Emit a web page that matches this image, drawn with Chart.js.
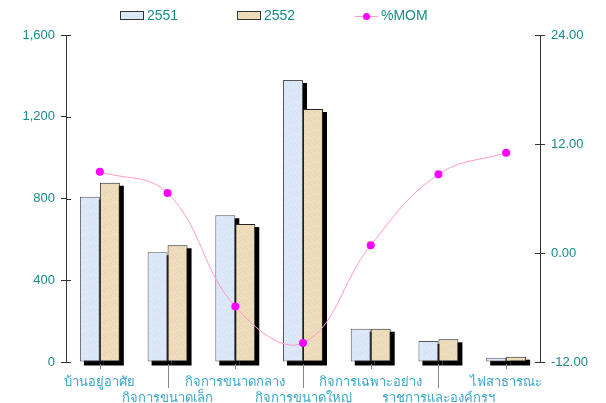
<!DOCTYPE html>
<html>
<head>
<meta charset="utf-8">
<script src="https://cdn.jsdelivr.net/npm/chart.js@4/dist/chart.umd.min.js"></script>
<style>
  html, body { margin: 0; padding: 0; background: #fff; }
  #wrap { width: 606px; height: 403px; }
</style>
</head>
<body>
<div id="wrap"><canvas id="momChart" width="606" height="403"></canvas></div>
<script>
const categories = ['บ้านอยู่อาศัย', 'กิจการขนาดเล็ก', 'กิจการขนาดกลาง', 'กิจการขนาดใหญ่', 'กิจการเฉพาะอย่าง', 'ราชการและองค์กรฯ', 'ไฟสาธารณะ'];
const values2551 = [809, 537, 718, 1380, 163, 103, 21];
const values2552 = [877, 571, 675, 1238, 163, 111, 26];
const momValues = [8.95, 6.6, -5.9, -9.9, 0.85, 8.66, 11.04];
const leftTicks = [0, 400, 800, 1200, 1600];
const rightTicks = [-12, 0, 12, 24];

const tealText = '#178a8a';
const labelBlue = '#3aa6c8';

// soft mottled fill, like the paper texture of the original bars
function texture(base, dark) {
  const c = document.createElement('canvas');
  c.width = 32; c.height = 32;
  const g = c.getContext('2d');
  g.fillStyle = base;
  g.fillRect(0, 0, 32, 32);
  g.fillStyle = dark;
  for (let i = 0; i < 32; i++) {
    for (let j = 0; j < 32; j++) {
      const n = Math.sin(i * 0.7 + j * 2.3) * Math.cos(j * 0.5 - i * 1.9);
      if (n > 0.55) g.fillRect(i, j, 1, 1);
    }
  }
  return g.createPattern(c, 'repeat');
}
const blueFill = texture('#dde9f8', 'rgba(175,200,228,0.3)');
const tanFill = texture('#efdebd', 'rgba(205,175,125,0.3)');

// black drop shadow behind the bars
const barShadow = {
  id: 'barShadow',
  beforeDatasetsDraw(chart) {
    const ctx = chart.ctx;
    ctx.save();
    ctx.fillStyle = '#000';
    chart.data.datasets.forEach((ds, i) => {
      if (ds.type !== 'bar') return;
      chart.getDatasetMeta(i).data.forEach(bar => {
        const p = bar.getProps(['x', 'y', 'base', 'width'], true);
        ctx.fillRect(p.x - p.width / 2 + 4, p.y + 3, p.width, p.base - p.y + 1);
      });
    });
    ctx.restore();
  }
};

// category tick marks, long ones for the second label row, and inner axis ticks
const catTicks = {
  id: 'catTicks',
  afterDraw(chart) {
    const ctx = chart.ctx;
    const x = chart.scales.x;
    const area = chart.chartArea;
    ctx.save();
    ctx.strokeStyle = '#888';
    ctx.lineWidth = 1;
    categories.forEach((c, i) => {
      const px = Math.round(x.getPixelForTick(i)) + 0.5;
      ctx.beginPath();
      ctx.moveTo(px, area.bottom + 2);
      ctx.lineTo(px, area.bottom + (i % 2 ? 26 : 7));
      ctx.stroke();
    });
    ctx.strokeStyle = '#333';
    [['y', area.left, 1], ['y1', area.right, -1]].forEach(([id, ax, dir]) => {
      const s = chart.scales[id];
      s.ticks.forEach(t => {
        const py = Math.round(s.getPixelForValue(t.value)) + 0.5;
        ctx.beginPath();
        ctx.moveTo(ax, py);
        ctx.lineTo(ax + dir * 5, py);
        ctx.stroke();
      });
    });
    ctx.restore();
  }
};

// legend drawn on top of the plot
const topLegend = {
  id: 'topLegend',
  afterDraw(chart) {
    const ctx = chart.ctx;
    ctx.save();
    ctx.font = '14px "Liberation Sans", Arial, sans-serif';
    ctx.textBaseline = 'middle';
    const y = 16;
    const items = [
      { x: 120, fill: blueFill, text: '2551' },
      { x: 237, fill: tanFill, text: '2552' }
    ];
    items.forEach(it => {
      ctx.fillStyle = it.fill;
      ctx.fillRect(it.x, y - 4, 23, 8);
      ctx.strokeStyle = '#333';
      ctx.strokeRect(it.x + 0.5, y - 4.5, 23, 8);
      ctx.fillStyle = tealText;
      ctx.fillText(it.text, it.x + 27, y);
    });
    ctx.strokeStyle = '#ff99cc';
    ctx.beginPath();
    ctx.moveTo(355, y + 0.5);
    ctx.lineTo(378, y + 0.5);
    ctx.stroke();
    ctx.fillStyle = '#ff00ff';
    ctx.beginPath();
    ctx.arc(366.5, y + 0.5, 3.5, 0, Math.PI * 2);
    ctx.fill();
    ctx.fillStyle = tealText;
    ctx.fillText('%MOM', 381, y);
    ctx.restore();
  }
};

new Chart(document.getElementById('momChart').getContext('2d'), {
  data: {
    labels: categories,
    datasets: [
      {
        type: 'line',
        label: '%MOM',
        data: momValues,
        yAxisID: 'y1',
        borderColor: '#ff99cc',
        borderWidth: 1,
        pointBackgroundColor: '#ff00ff',
        pointBorderWidth: 0,
        pointRadius: 4,
        tension: 0.4,
        order: 0
      },
      {
        type: 'bar',
        label: '2551',
        data: values2551,
        yAxisID: 'y',
        backgroundColor: blueFill,
        borderColor: '#555',
        borderWidth: 1,
        borderSkipped: false,
        barPercentage: 1,
        categoryPercentage: 0.59,
        order: 1
      },
      {
        type: 'bar',
        label: '2552',
        data: values2552,
        yAxisID: 'y',
        backgroundColor: tanFill,
        borderColor: '#222',
        borderWidth: 1,
        borderSkipped: false,
        barPercentage: 1,
        categoryPercentage: 0.59,
        order: 1
      }
    ]
  },
  options: {
    responsive: false,
    animation: false,
    layout: { padding: { top: 35, left: 0, right: 0, bottom: 0 } },
    plugins: {
      legend: { display: false },
      tooltip: { enabled: false }
    },
    scales: {
      x: {
        offset: true,
        border: { display: false },
        grid: { display: false, drawTicks: false },
        ticks: {
          color: labelBlue,
          font: { size: 13, family: 'Tahoma, "DejaVu Sans", sans-serif', lineHeight: 1.25 },
          padding: 12,
          maxRotation: 0,
          autoSkip: false,
          callback: (v, i) => (i % 2 ? ['', categories[i]] : categories[i])
        },
        afterFit: s => { s.height = 41; }
      },
      y: {
        position: 'left',
        min: 0,
        max: 1600,
        afterBuildTicks: s => { s.ticks = leftTicks.map(v => ({ value: v })); },
        border: { display: true, color: '#333' },
        grid: { drawOnChartArea: false, color: '#333', tickLength: 5 },
        ticks: {
          color: tealText,
          font: { size: 13, family: '"Liberation Sans", Arial, sans-serif' },
          padding: 6,
          callback: v => v.toLocaleString('en-US')
        },
        afterFit: s => { s.width = 66; }
      },
      y1: {
        position: 'right',
        min: -12,
        max: 24,
        afterBuildTicks: s => { s.ticks = rightTicks.map(v => ({ value: v })); },
        border: { display: true, color: '#333' },
        grid: { drawOnChartArea: false, color: '#333', tickLength: 5 },
        ticks: {
          color: tealText,
          font: { size: 13, family: '"Liberation Sans", Arial, sans-serif' },
          padding: 6,
          callback: v => v.toFixed(2)
        },
        afterFit: s => { s.width = 66; }
      }
    }
  },
  plugins: [barShadow, catTicks, topLegend]
});
</script>
</body>
</html>
